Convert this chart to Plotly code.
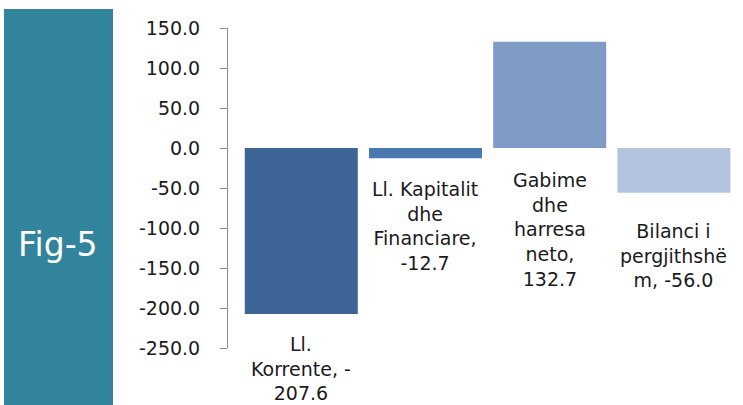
import plotly.graph_objects as go

# ---- data ----
categories = ["Ll. Korrente", "Ll. Kapitalit dhe Financiare", "Gabime dhe harresa neto", "Bilanci i pergjithshëm"]
values = [-207.6, -12.7, 132.7, -56.0]
label_texts = [
    "Ll.<br>Korrente, -<br>207.6",
    "Ll. Kapitalit<br>dhe<br>Financiare,<br>-12.7",
    "Gabime<br>dhe<br>harresa<br>neto,<br>132.7",
    "Bilanci i<br>pergjithshë<br>m, -56.0",
]
y_ticks = [150, 100, 50, 0, -50, -100, -150, -200, -250]

# ---- style ----
bar_colors = ["#3C6494", "#4A79B1", "#7F9CC7", "#B4C4DE"]
label_shift = [-17, -18, -19, -25]
W, H = 743, 405
ML, MR, MT, MB = 228, 7, 28, 57
pw, ph = W - ML - MR, H - MT - MB


def px_x(px):
    return (px - ML) / pw


def px_y(py):
    return (H - MB - py) / ph


fig = go.Figure()
fig.add_trace(go.Bar(
    x=list(range(len(categories))),
    y=values,
    marker=dict(color=bar_colors, line=dict(width=0)),
    width=0.91,
    hovertext=categories,
    showlegend=False,
))

annotations = []
for i, (v, t) in enumerate(zip(values, label_texts)):
    annotations.append(dict(
        x=i, y=min(v, 0), xref="x", yref="y", text=t, showarrow=False,
        yanchor="top", xanchor="center", yshift=label_shift[i],
        font=dict(family="DejaVu Sans", size=19, color="#1a1a1a"),
        align="center",
    ))

annotations.append(dict(
    x=px_x(58), y=px_y(244), xref="paper", yref="paper", text="Fig-5",
    showarrow=False, xanchor="center", yanchor="middle",
    font=dict(family="DejaVu Sans", size=33, color="white"),
))

fig.update_layout(
    width=W, height=H,
    margin=dict(l=ML, r=MR, t=MT, b=MB),
    paper_bgcolor="white", plot_bgcolor="white",
    bargap=0.09,
    annotations=annotations,
    shapes=[dict(
        type="rect", xref="paper", yref="paper",
        x0=px_x(4), x1=px_x(113), y0=px_y(406), y1=px_y(9),
        fillcolor="#31849B", line=dict(width=0), layer="below",
    )],
    xaxis=dict(
        range=[-0.59, 3.5], visible=False, showgrid=False, zeroline=False,
    ),
    yaxis=dict(
        range=[-250, 150], tickvals=y_ticks,
        ticktext=[f"{v:.1f}" for v in y_ticks],
        showgrid=False, zeroline=False,
        showline=True, linecolor="#8c8c8c", linewidth=1,
        ticks="outside", ticklen=7, tickcolor="#8c8c8c",
        ticklabelstandoff=16,
        tickfont=dict(family="DejaVu Sans", size=19, color="#1a1a1a"),
    ),
)

fig.write_html("out.html", config={"displayModeBar": False},
               post_script="document.body.style.margin='0';")
